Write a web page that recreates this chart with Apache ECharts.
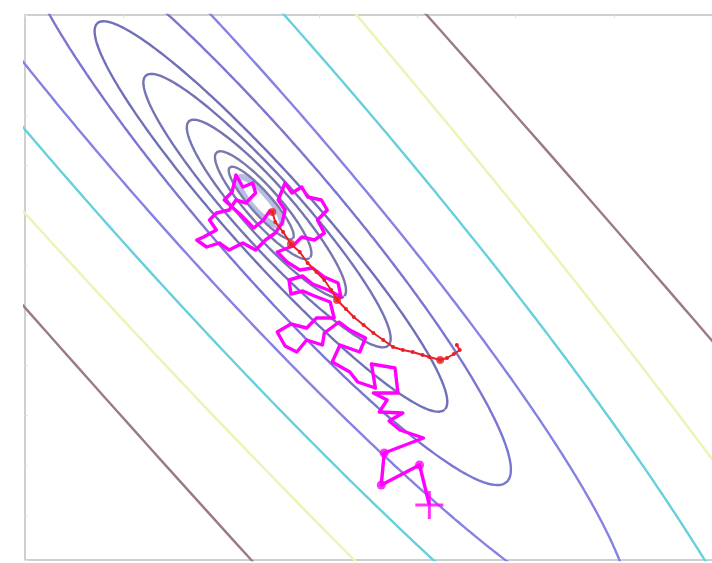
<!DOCTYPE html>
<html><head><meta charset="utf-8">
<script src="https://cdn.jsdelivr.net/npm/echarts@6/dist/echarts.min.js"></script>
<style>html,body{margin:0;background:#fff}#c{width:712px;height:563px}</style>
</head><body><div id="c"></div><script>
// Contour levels of the target density, each drawn as an ellipse:
// centre (x, y), semi-major, semi-minor and tilt of the major axis (deg, y axis points down)
const levelCx   = [239.3, 240.7, 242.7, 246.0, 246.6, 250.6, 244.9, 195.1, 173.5, 40.1, 236.7];
const levelCy   = [186.5, 188.0, 190.2, 193.9, 195.6, 201.5, 189.2, 138.4, 104.0, -44.9, 181.7];
const levelA    = [32, 48, 71, 118, 183, 262, 371, 620, 900, 1500, 2500];
const levelB    = [9, 11, 17, 25, 33, 42, 62, 90, 137, 193.5, 250];
const levelTilt = [48, 48, 48, 48, 47.5, 47.5, 48.5, 48, 48, 48, 47.8];
const levelColor = ['#b6bee4', '#7c7ca8', '#7878ac', '#7575b0', '#7373b6', '#7070b8',
                    '#7a76d2', '#8682e4', '#66d0dc', '#e8f5b4', '#9a7a84'];
const levelWidth = [6, 2.4, 2.4, 2.4, 2.4, 2.4, 2.4, 2.4, 2.4, 2.4, 2.4];

// Random-walk sampler trace, starting at the cross
const walkX = [412,402,363,366,406,382,371,385,361,369,355,380,377,353,357,339,331,313,321,341,347,331,320,305,303,287,277,265,257,271,287,297,315,311,295,283,271,269,283,293,309,322,319,305,293,280,267,257,273,282,295,305,298,308,302,288,282,272,265,258,265,262,255,245,235,222,208,198,185,175,182,195,188,195,208,215,225,235,232,222,215,211,203,220,233,243,250];
const walkY = [490,450,470,438,423,415,406,398,397,385,378,378,353,349,373,367,357,347,330,337,323,315,307,318,330,325,337,331,317,309,313,303,303,287,281,276,279,265,261,269,275,282,268,262,253,255,247,237,231,222,225,218,205,195,185,182,172,178,168,185,195,208,218,225,235,228,235,228,232,225,222,215,205,198,195,185,188,178,168,172,160,177,185,200,213,205,195];
// samples marked with a dot near the start of the walk
const walkDots = [1, 2, 3];

// Gradient-guided trace
const guidedX = [252,255,263,271,280,288,297,305,312,318,327,335,345,355,365,375,385,395,405,412,423,430,437,443,440];
const guidedY = [197,207,217,229,237,248,257,265,275,285,294,302,310,318,325,332,335,337,340,342,345,343,339,335,330];
const guidedDots = [0, 3, 9, 20];

function ellipsePoints(i) {
  const pts = [];
  const t0 = levelTilt[i] * Math.PI / 180;
  const ux = Math.cos(t0), uy = Math.sin(t0);
  const nx = -Math.sin(t0), ny = Math.cos(t0);
  for (let k = 0; k <= 720; k++) {
    const t = k * Math.PI / 360;
    const a = levelA[i] * Math.cos(t), b = levelB[i] * Math.sin(t);
    pts.push([levelCx[i] + a * ux + b * nx, levelCy[i] + a * uy + b * ny]);
  }
  return pts;
}

const series = [];
levelCx.forEach((_, i) => {
  series.push({
    type: 'line', data: ellipsePoints(i), showSymbol: false, silent: true,
    lineStyle: { color: levelColor[i], width: levelWidth[i] }, z: 2
  });
});
series.push({
  type: 'line', data: walkX.map((x, i) => [x, walkY[i]]), showSymbol: false,
  lineStyle: { color: '#ff00ff', width: 3.4, join: 'round' }, z: 5
});
series.push({
  type: 'scatter', data: walkDots.map(i => [walkX[i], walkY[i]]),
  symbol: 'circle', symbolSize: 9, itemStyle: { color: '#ff00ff' }, z: 6
});
series.push({
  type: 'scatter', data: [[walkX[0], walkY[0]]], symbol: 'path://M0,-1L0,1M-1,0L1,0',
  symbolSize: 28, itemStyle: { color: 'none', borderColor: '#ff00ff', borderWidth: 3 }, z: 6
});
series.push({
  type: 'line', data: guidedX.map((x, i) => [x, guidedY[i]]),
  symbol: 'circle', symbolSize: 4, showSymbol: true,
  itemStyle: { color: '#e8202a' }, lineStyle: { color: '#e8202a', width: 2 }, z: 7
});
series.push({
  type: 'scatter', data: guidedDots.map(i => [guidedX[i], guidedY[i]]),
  symbol: 'circle', symbolSize: 8, itemStyle: { color: '#e8202a' }, z: 8
});

const chart = echarts.init(document.getElementById('c'), null, { renderer: 'canvas' });
chart.setOption({
  animation: false,
  backgroundColor: '#ffffff',
  grid: { left: 25, top: 15, width: 700, height: 545, show: false },
  xAxis: { type: 'value', min: 0, max: 700, interval: 100, position: 'top',
    axisLine: { show: true, onZero: false, lineStyle: { color: '#cfcfcf', width: 2 } },
    axisTick: { show: true, inside: true, length: 3, lineStyle: { color: '#e2e2e2' } },
    axisLabel: { show: false }, splitLine: { show: false } },
  yAxis: { type: 'value', min: 0, max: 545, interval: 50, inverse: true,
    axisLine: { show: true, onZero: false, lineStyle: { color: '#cfcfcf', width: 2 } },
    axisTick: { show: true, inside: true, length: 3, lineStyle: { color: '#e2e2e2' } },
    axisLabel: { show: false }, splitLine: { show: false } },
  graphic: [{ type: 'line', shape: { x1: 25, y1: 560, x2: 712, y2: 560 },
    style: { stroke: '#cfcfcf', lineWidth: 2 }, silent: true }],
  series: series
});
</script></body></html>
